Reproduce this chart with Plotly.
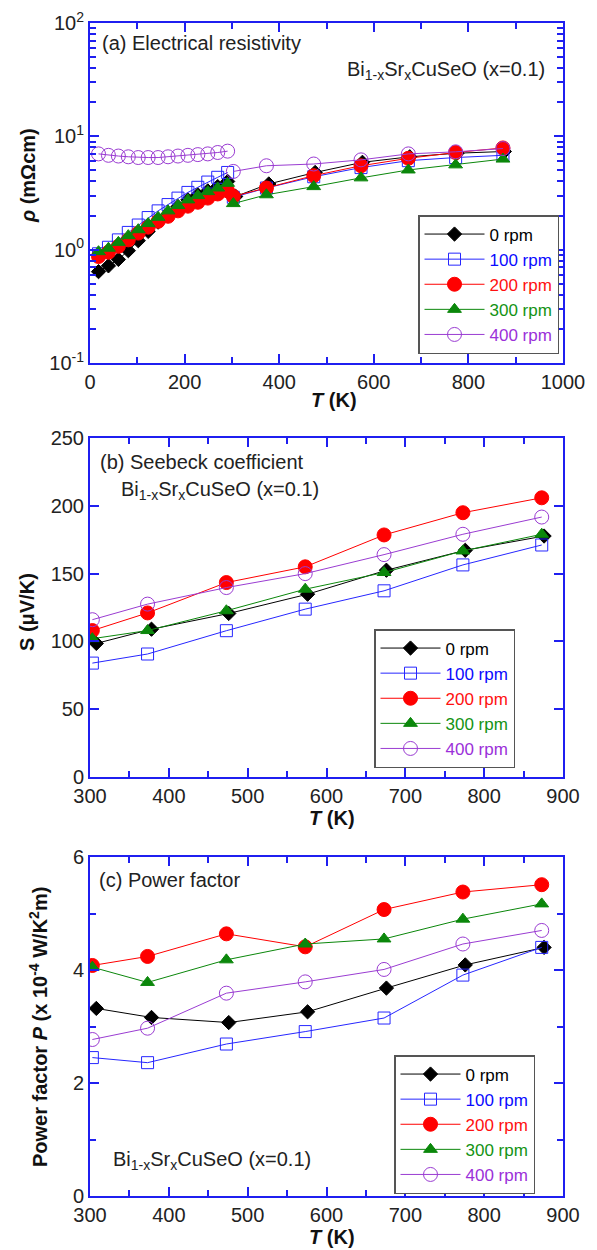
import plotly.graph_objects as go

# ---- series definitions ----
names = ["0 rpm", "100 rpm", "200 rpm", "300 rpm", "400 rpm"]
colors = ["#000000", "#2626ff", "#ff0000", "#0b870b", "#9a3cd2"]
text_colors = ["#000000", "#0a0aff", "#ff1010", "#139313", "#9b30d9"]
symbols = ["diamond", "square-open", "circle", "triangle-up", "circle-open"]
sizes = [11, 12, 14, 12, 14]

# ---- (a) resistivity, low-temperature sweep (K, mOhm cm) ----
T_low = [18, 39, 60, 81, 102, 123, 144, 165, 186, 207, 228, 249, 270, 291]
rho_low_0 = [0.64, 0.72, 0.82, 0.98, 1.2, 1.45, 1.75, 2.05, 2.4, 2.75, 3.05, 3.3, 3.6, 4.0]
rho_low_100 = [0.92, 1.05, 1.22, 1.42, 1.65, 1.92, 2.2, 2.5, 2.85, 3.2, 3.55, 3.95, 4.35, 4.8]
rho_low_200 = [0.87, 0.95, 1.07, 1.22, 1.4, 1.58, 1.78, 1.97, 2.2, 2.42, 2.62, 2.85, 3.1, 3.3]
rho_low_300 = [0.96, 1.03, 1.16, 1.33, 1.5, 1.7, 1.93, 2.2, 2.45, 2.75, 3.0, 3.25, 3.5, 3.85]
rho_low_400 = [7.0, 6.8, 6.7, 6.6, 6.5, 6.5, 6.5, 6.6, 6.7, 6.8, 6.9, 7.0, 7.2, 7.4]

# ---- high-temperature sweep (K) ----
T_high = [303, 373, 473, 573, 673, 773, 873]
T_high_0 = [308, 378, 476, 576, 676, 776, 876]

rho_high_0 = [2.95, 3.8, 4.8, 5.9, 6.6, 7.1, 7.35]
rho_high_100 = [2.9, 3.5, 4.4, 5.3, 6.1, 6.5, 6.8]
rho_high_200 = [2.95, 3.5, 4.5, 5.5, 6.4, 7.2, 7.9]
rho_high_300 = [2.55, 3.05, 3.6, 4.3, 5.05, 5.6, 6.3]
rho_high_400 = [4.9, 5.5, 5.7, 6.2, 7.0, 7.3, 7.8]

# ---- (b) Seebeck coefficient (uV/K) ----
S_0 = [98.5, 109, 120.6, 134.8, 152.5, 167.2, 177.7]
S_100 = [84, 90.7, 107.9, 123.8, 137.3, 156.4, 171.1]
S_200 = [108, 121, 143.4, 155, 178.5, 194.9, 205.9]
S_300 = [102, 108, 122.6, 138.5, 150.8, 166.7, 179]
S_400 = [116, 127.5, 139.7, 150, 164, 179, 191.7]

# ---- (c) power factor (x1e-4 W/K^2 m) ----
P_0 = [3.32, 3.16, 3.07, 3.26, 3.68, 4.09, 4.40]
P_100 = [2.45, 2.36, 2.69, 2.91, 3.15, 3.91, 4.40]
P_200 = [4.08, 4.24, 4.64, 4.41, 5.07, 5.38, 5.51]
P_300 = [4.05, 3.78, 4.18, 4.46, 4.55, 4.90, 5.17]
P_400 = [2.77, 2.97, 3.59, 3.79, 4.01, 4.46, 4.70]

rho_low = [rho_low_0, rho_low_100, rho_low_200, rho_low_300, rho_low_400]
rho_high = [rho_high_0, rho_high_100, rho_high_200, rho_high_300, rho_high_400]
S_all = [S_0, S_100, S_200, S_300, S_400]
P_all = [P_0, P_100, P_200, P_300, P_400]

W, H = 597, 1250
FONT = "Liberation Sans, Arial, sans-serif"
AXC = "#1f1ff0"


def px_x(p):
    return p / W


def px_y(p):
    return 1 - p / H


fig = go.Figure()


def add_series(i, x, y, xa, ya, legend, show):
    fig.add_trace(go.Scatter(
        x=x, y=y, mode="lines+markers",
        xaxis=xa, yaxis=ya, legend=legend, showlegend=show,
        name=f"<span style='color:{text_colors[i]}'>{names[i]}</span>",
        line=dict(color=colors[i], width=1),
        marker=dict(symbol=symbols[i], size=sizes[i], color=colors[i],
                    line=dict(color=colors[i], width=1)),
    ))


for i in range(5):
    xs = T_high_0 if i == 0 else T_high
    add_series(i, T_low, rho_low[i], "x", "y", "legend", False)
    add_series(i, xs, rho_high[i], "x", "y", "legend", True)
for i in range(5):
    xs = T_high_0 if i == 0 else T_high
    add_series(i, xs, S_all[i], "x2", "y2", "legend2", True)
for i in range(5):
    xs = T_high_0 if i == 0 else T_high
    add_series(i, xs, P_all[i], "x3", "y3", "legend3", True)

tickfont = dict(family=FONT, size=20, color="#222")


def axis_common(**kw):
    d = dict(showline=True, linecolor=AXC, linewidth=2, mirror="allticks",
             ticks="inside", ticklen=9, tickwidth=2, tickcolor=AXC,
             showgrid=False, zeroline=False, tickfont=tickfont, automargin=False)
    d.update(kw)
    return d


xdom = [px_x(90), px_x(563)]
panels = [(23, 363), (438, 777), (857, 1196)]
ydoms = [[px_y(b), px_y(t)] for t, b in panels]

fig.update_layout(
    width=W, height=H, margin=dict(l=0, r=0, t=0, b=0, autoexpand=False),
    paper_bgcolor="white", plot_bgcolor="white",
    font=dict(family=FONT, size=20, color="#222"),
    xaxis=axis_common(domain=xdom, anchor="y", range=[0, 1000], dtick=200,
                      minor=dict(ticks="inside", dtick=100, ticklen=6, tickwidth=2, tickcolor=AXC)),
    yaxis=axis_common(domain=ydoms[0], anchor="x", type="log", range=[-1, 2],
                      tickvals=[0.1, 1, 10, 100],
                      ticktext=["10<sup>-1</sup>", "10<sup>0</sup>", "10<sup>1</sup>", "10<sup>2</sup>"],
                      minor=dict(ticks="inside", ticklen=6, tickwidth=2, tickcolor=AXC,
                                 tickvals=[m * 10 ** e for e in (-1, 0, 1) for m in range(2, 10)])),
    xaxis2=axis_common(domain=xdom, anchor="y2", range=[300, 900], dtick=100,
                       minor=dict(ticks="inside", dtick=50, ticklen=6, tickwidth=2, tickcolor=AXC)),
    yaxis2=axis_common(domain=ydoms[1], anchor="x2", range=[0, 250], dtick=50),
    xaxis3=axis_common(domain=xdom, anchor="y3", range=[300, 900], dtick=100,
                       minor=dict(ticks="inside", dtick=50, ticklen=6, tickwidth=2, tickcolor=AXC)),
    yaxis3=axis_common(domain=ydoms[2], anchor="x3", range=[0, 6], dtick=2,
                       minor=dict(ticks="inside", dtick=1, ticklen=6, tickwidth=2, tickcolor=AXC)),
)

legend_style = dict(bgcolor="white", bordercolor="#555", borderwidth=1.5,
                    font=dict(family=FONT, size=17), xanchor="right", yanchor="top",
                    tracegroupgap=0, itemwidth=60)
fig.update_layout(
    legend=dict(x=px_x(559), y=px_y(215), **legend_style),
    legend2=dict(x=px_x(515), y=px_y(629), **legend_style),
    legend3=dict(x=px_x(535), y=px_y(1055), **legend_style),
)

formula = "Bi<sub>1-x</sub>Sr<sub>x</sub>CuSeO (x=0.1)"
ann_font = dict(family=FONT, size=20, color="#222")
title_font = dict(family=FONT, size=20, color="#111")
annotations = [
    dict(text="(a) Electrical resistivity", x=px_x(100), y=px_y(43), xanchor="left"),
    dict(text=formula, x=px_x(547), y=px_y(70), xanchor="right"),
    dict(text="(b) Seebeck coefficient", x=px_x(98), y=px_y(462), xanchor="left"),
    dict(text=formula, x=px_x(119), y=px_y(490), xanchor="left"),
    dict(text="(c) Power factor", x=px_x(97), y=px_y(880), xanchor="left"),
    dict(text=formula, x=px_x(111), y=px_y(1160), xanchor="left"),
]
for a in annotations:
    fig.add_annotation(xref="paper", yref="paper", yanchor="middle", showarrow=False,
                       font=ann_font, **a)

axis_titles = [
    dict(text="<b><i>ρ</i> (mΩcm)</b>", x=px_x(28), y=px_y(176), textangle=-90),
    dict(text="<b><i>T</i> (K)</b>", x=px_x(334), y=px_y(400), textangle=0),
    dict(text="<b>S (μV/K)</b>", x=px_x(27), y=px_y(612), textangle=-90),
    dict(text="<b><i>T</i> (K)</b>", x=px_x(332), y=px_y(818), textangle=0),
    dict(text="<b>Power factor <i>P</i> (x 10<sup>-4</sup> W/K<sup>2</sup>m)</b>",
         x=px_x(38), y=px_y(1027), textangle=-90),
    dict(text="<b><i>T</i> (K)</b>", x=px_x(332), y=px_y(1237), textangle=0),
]
for a in axis_titles:
    fig.add_annotation(xref="paper", yref="paper", xanchor="center", yanchor="middle",
                       showarrow=False, font=title_font, **a)

fig.write_html("out.html")
